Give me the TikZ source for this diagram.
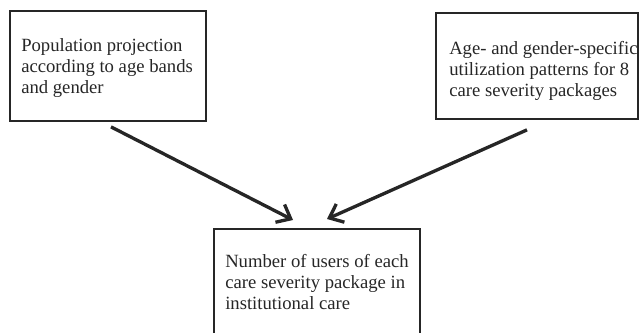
\documentclass[tikz,border=0pt]{standalone}
\usepackage{fontspec}
\setmainfont{Liberation Serif}
\usetikzlibrary{arrows.meta,calc}
\begin{document}
\begin{tikzpicture}[x=0.75pt,y=-0.75pt,
  box/.style={draw=black!85,line width=1.4pt,inner sep=0pt,anchor=north west},
  txt/.style={anchor=base west,align=left,inner sep=0pt,font=\fontsize{14}{15.6}\selectfont,text=black!85},
  arr/.style={draw=black!85,line width=2.5pt,-{Straight Barb[length=9pt,width=15pt,line width=2.5pt]}}]
\useasboundingbox (0,0) rectangle (639,332);
\node[box,minimum width=196*0.75pt,minimum height=110*0.75pt] (a) at (9,10) {};
\node[box,minimum width=202*0.75pt,minimum height=106*0.75pt] (b) at (435,12) {};
\node[box,minimum width=206*0.75pt,minimum height=110*0.75pt] (c) at (213,228) {};
\node[txt] (ta) at (21,93) {Population projection\\according to age bands\\and gender};
\node[txt] (tb) at (449,96) {Age- and gender-specific\\utilization patterns for 8\\care severity packages};
\node[txt] (tc) at (225,309) {Number of users of each\\care severity package in\\institutional care};
\coordinate (a1) at ($(a.south west)+(102,5)$);
\coordinate (c1) at ($(c.north west)+(80,-8)$);
\coordinate (b1) at ($(b.south west)+(92,10)$);
\coordinate (c2) at ($(c.north west)+(114,-9)$);
\draw[arr] (a1) -- (c1);
\draw[arr] (b1) -- (c2);
\end{tikzpicture}
\end{document}
